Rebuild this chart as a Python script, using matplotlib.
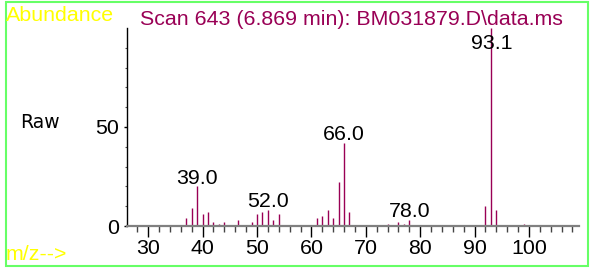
import matplotlib
matplotlib.use('Agg')
import matplotlib.pyplot as plt
from matplotlib.patches import Rectangle

# spectrum peaks
mz = [37, 38, 39, 40, 41, 42, 43, 44, 46.5, 49, 50, 51, 52, 53, 54,
      61, 62, 63, 64, 65, 66, 67, 74, 76, 77, 78, 92, 93.1, 94, 99]
abund = [4, 9, 20, 6, 7, 2, 1, 2, 3, 2, 6, 7, 8, 3, 6,
         4, 5, 8, 4, 22, 42, 7, 1, 2, 1, 3, 10, 100, 8, 1]
label_mz = [39.0, 52.0, 66.0, 78.0, 93.1]

title = 'Scan 643 (6.869 min): BM031879.D\\data.ms'
peak_col = '#990055'
fs = 15.4

plt.rcParams['font.family'] = ['Liberation Sans', 'DejaVu Sans']

fig = plt.figure(figsize=(5.9, 2.69), dpi=100)
W, H = 590, 269
ax = fig.add_axes([127 / W, (H - 226) / H, (579 - 127) / W, (226 - 28) / H])

ax.vlines(mz, 0, abund, color=peak_col, linewidth=1.0)
for m in label_mz:
    h = abund[mz.index(m)]
    ax.annotate('%.1f' % m, (m, min(h, 88)), xytext=(0, 2), textcoords='offset points',
                ha='center', va='baseline', fontsize=fs, color='black')

ax.set_xlim(26.1, 109.2)
ax.set_ylim(0, 100)
for s in ['top', 'right']:
    ax.spines[s].set_visible(False)
ax.spines['left'].set_color('black')
ax.spines['left'].set_linewidth(1.0)
ax.spines['bottom'].set_color('#808080')
ax.spines['bottom'].set_linewidth(1.6)

ax.set_xticks(range(30, 101, 10))
ax.set_xticks(range(28, 109, 2), minor=True)
ax.set_yticks([0, 50])
ax.set_yticks(range(10, 100, 10), minor=True)
ax.tick_params(axis='x', which='major', length=8, width=1.0, color='black',
               labelsize=fs, pad=1)
ax.tick_params(axis='x', which='minor', length=4.3, width=1.0, color='#444444')
ax.tick_params(axis='y', which='major', length=2.5, width=1.0, color='black',
               labelsize=fs, pad=3)
ax.tick_params(axis='y', which='minor', length=1.5, width=0.8, color='#555555')

fig.text(6 / W, 1 - 20.7 / H, 'Abundance', color='#ffff00', fontsize=fs, va='baseline')
fig.text(140 / W, 1 - 25 / H, title, color=peak_col, fontsize=fs, va='baseline')
fig.text(20 / W, 1 - 127.7 / H, 'Raw', family='DejaVu Sans', fontsize=13.5, va='baseline')
fig.text(6 / W, 1 - 260 / H, 'm/z-->', color='#ffff00', fontsize=fs, va='baseline')

fig.patches.append(Rectangle((6 / W, 1 - 266 / H), 582 / W, 264 / H, transform=fig.transFigure,
                             fill=False, edgecolor='#66ff66', linewidth=1.5))

fig.savefig('out.png', dpi=100)
